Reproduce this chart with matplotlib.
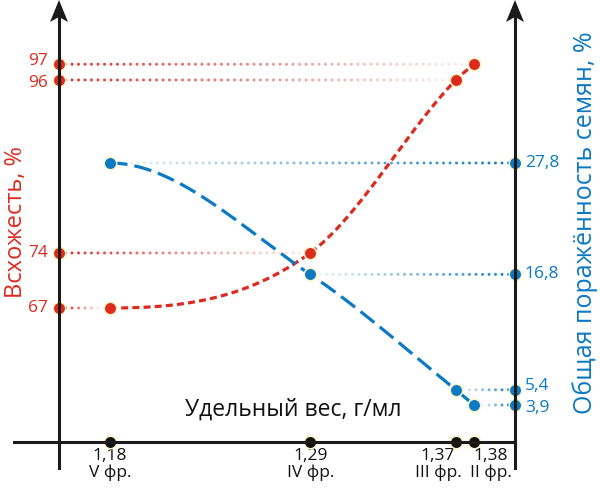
import numpy as np
import matplotlib
matplotlib.use("Agg")
import matplotlib.pyplot as plt
from matplotlib.patches import Polygon
from matplotlib.lines import Line2D
from matplotlib.colors import to_rgba

plt.rcParams['font.family'] = ['Open Sans', 'DejaVu Sans']

# ---- data ----
weights = [1.18, 1.29, 1.37, 1.38]
weight_labels = ["1,18", "1,29", "1,37", "1,38"]
fraction_labels = ["V фр.", "IV фр.", "III фр.", "II фр."]
germination = [67, 74, 96, 97]
germination_labels = ["67", "74", "96", "97"]
infection = [27.8, 16.8, 5.4, 3.9]
infection_labels = ["27,8", "16,8", "5,4", "3,9"]

RED = "#dc2a1f"
BLUE = "#0b79c3"
EDGE = "#fdf5c4"

W, H = 600, 490
fig = plt.figure(figsize=(W / 100, H / 100), dpi=100)


def fx(px):
    return px / W


def fy(py):
    return 1 - py / H


ax = fig.add_axes([fx(59), fy(442), fx(515) - fx(59), fy(10) - fy(442)])


def fwd(v):
    v = np.asarray(v, dtype=float)
    return np.where(v > 96, 96 + 2 * (v - 96), v)


def inv(f):
    f = np.asarray(f, dtype=float)
    return np.where(f > 96, 96 + (f - 96) / 2, f)


ax.set_xlim(1.15198, 1.40253)
ax.set_yscale('function', functions=(fwd, inv))
ax.set_ylim(49.955, 100.45)
ax2 = ax.twinx()
ax2.set_ylim(0.244, 42.91)
for a in (ax, ax2):
    a.axis('off')


def hermite(xs, ys, n=60):
    xs = np.asarray(xs, float)
    ys = np.asarray(ys, float)
    h = np.diff(xs)
    s = np.diff(ys) / h
    m = np.zeros_like(ys)
    for i in range(1, len(xs) - 1):
        m[i] = 0.5 * (s[i - 1] + s[i])
    m[0] = 0.0
    m[-1] = s[-1]
    X, Y = [], []
    for i in range(len(xs) - 1):
        t = np.linspace(0, 1, n)
        h00 = 2 * t**3 - 3 * t**2 + 1
        h10 = t**3 - 2 * t**2 + t
        h01 = -2 * t**3 + 3 * t**2
        h11 = t**3 - t**2
        X.append(xs[i] + t * h[i])
        Y.append(h00 * ys[i] + h10 * h[i] * m[i] + h01 * ys[i + 1] + h11 * h[i] * m[i + 1])
    return np.concatenate(X), np.concatenate(Y)


# fading dotted guide lines (dots spaced ~6.5 px)
xl = ax.get_xlim()
px_per_x = ax.bbox.width / (xl[1] - xl[0])
step = 6.5 / px_per_x


def fading_dots(axis, x_from, x_to, y, color, fade_end=0.1):
    n = int(abs(x_to - x_from) / step)
    xs = x_from + np.sign(x_to - x_from) * step * np.arange(1, n)
    if len(xs) == 0:
        return
    al = np.linspace(0.95, fade_end, len(xs))
    cols = [to_rgba(color, a) for a in al]
    axis.scatter(xs, [y] * len(xs), s=4.5, c=cols, linewidths=0,
                 clip_on=False, zorder=1)


for x, v in zip(weights, germination):
    fading_dots(ax, xl[0], x, v, RED)
for x, v in zip(weights, infection):
    fading_dots(ax2, xl[1], x, v, BLUE)

# curves
cx, cy = hermite(weights, fwd(germination))
ax.plot(cx, inv(cy), color=RED, lw=2.3, linestyle=(0, (2.2, 1.3)), zorder=3)
bx, by = hermite(weights, infection)
ax2.plot(bx, by, color=BLUE, lw=2.3, linestyle=(0, (5.5, 2.2)), zorder=3)

mk = dict(marker='o', markersize=9, markeredgewidth=1.1, markeredgecolor=EDGE,
          linestyle='none', clip_on=False, zorder=5)
ax.plot(weights, germination, color=RED, **mk)
ax2.plot(weights, infection, color=BLUE, **mk)

# axes frame lines (figure decorations)
lk = dict(color='#1a1a1a', lw=2.2, transform=fig.transFigure, zorder=2)
fig.add_artist(Line2D([fx(14), fx(515)], [fy(442), fy(442)], **lk))
fig.add_artist(Line2D([fx(59), fx(59)], [fy(468), fy(14)], **lk))
fig.add_artist(Line2D([fx(515), fx(515)], [fy(468), fy(14)], **lk))
for cxp in (59, 515):
    pts = [(cxp - 9, 22), (cxp, 0), (cxp + 9, 22), (cxp, 17)]
    fig.add_artist(Polygon([(fx(a), fy(b)) for a, b in pts], closed=True,
                           facecolor='#1a1a1a', edgecolor='none',
                           transform=fig.transFigure, zorder=6))

# axis markers
ax.plot([0] * len(germination), germination, color=RED,
        transform=ax.get_yaxis_transform(), **mk)
ax2.plot([1] * len(infection), infection, color=BLUE,
         transform=ax2.get_yaxis_transform(), **mk)
ax.plot(weights, [0] * len(weights), color='#111111',
        transform=ax.get_xaxis_transform(), **mk)

# tick labels (closely spaced pairs nudged apart slightly)
red_dy = [0, 0, -2.5, 2.5]
blue_dy = [0, 0, 2.5, -2.5]
for v, lab, dy in zip(germination, germination_labels, red_dy):
    ax.annotate(lab, xy=(0, v), xycoords=ax.get_yaxis_transform(),
                xytext=(-8, dy), textcoords='offset points', ha='right',
                va='center', color=RED, fontsize=12.5)
for v, lab, dy in zip(infection, infection_labels, blue_dy):
    ax2.annotate(lab, xy=(1, v), xycoords=ax2.get_yaxis_transform(),
                 xytext=(7, dy), textcoords='offset points', ha='left',
                 va='center', color=BLUE, fontsize=12.5)
aligns = [('center', 0), ('center', 0), ('right', 4), ('left', -3)]
for x, wl, fl, (ha, dx) in zip(weights, weight_labels, fraction_labels, aligns):
    ax.annotate(wl + "\n" + fl, xy=(x, 0), xycoords=ax.get_xaxis_transform(),
                xytext=(dx, -4), textcoords='offset points', ha=ha, va='top',
                multialignment='center', fontsize=12.5, linespacing=1.1,
                color='#111111')

# axis titles
fig.text(fx(16), fy(222), "Всхожесть, %", rotation=90, ha='center',
         va='center', color=RED, fontsize=17)
fig.text(fx(585), fy(223), "Общая поражённость семян, %", rotation=90,
         ha='center', va='center', color=BLUE, fontsize=18)
fig.text(fx(293), fy(410), "Удельный вес, г/мл", ha='center', va='center',
         color='#111111', fontsize=16.5)

fig.savefig("out.png", dpi=100)
